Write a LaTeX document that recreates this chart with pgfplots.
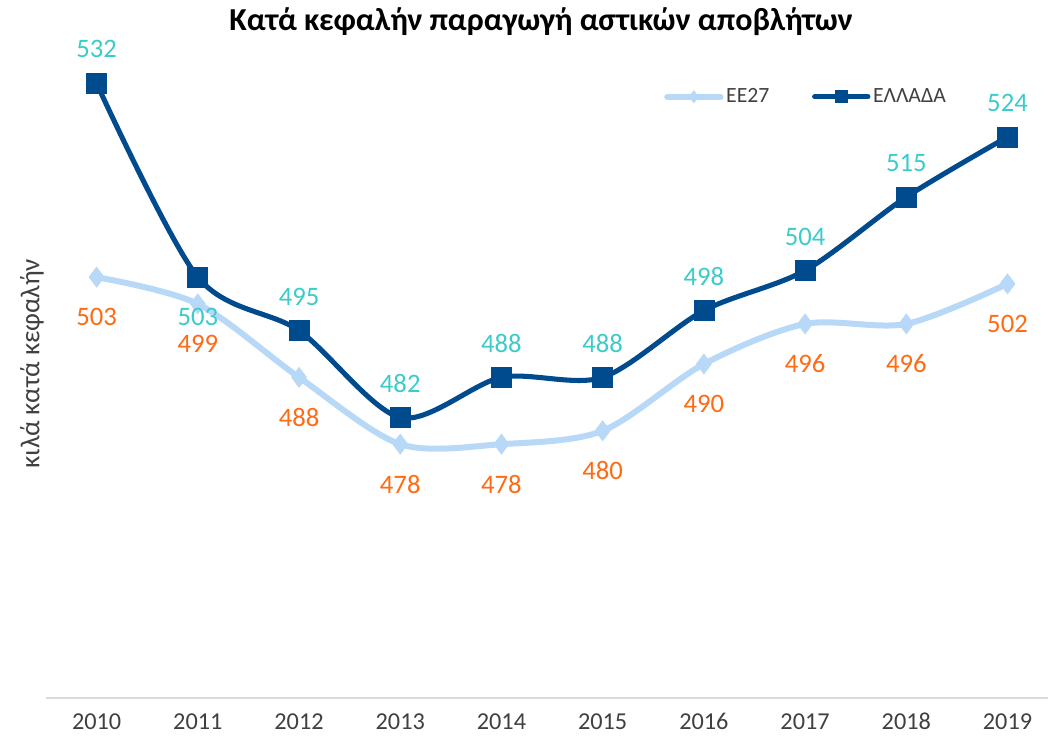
\documentclass[border=0pt]{standalone}
\usepackage{fontspec}
\setmainfont{Carlito}
\usepackage{pgfplots}
\pgfplotsset{compat=1.18}
\definecolor{darkblue}{HTML}{004A8E}
\definecolor{lightblue}{HTML}{B8D8F8}
\definecolor{tealtxt}{HTML}{3CCBCB}
\definecolor{orangetxt}{HTML}{FF6A13}
\definecolor{ticktxt}{HTML}{404040}
\definecolor{axisgray}{HTML}{D9D9D9}

\begin{document}
\begin{tikzpicture}
\begin{axis}[
  scale only axis, width=751.5pt, height=501pt,
  xmin=-0.5, xmax=9.4, ymin=440, ymax=540,
  axis x line=bottom, axis y line=none,
  x axis line style={axisgray, line width=1.3pt, -},
  xtick={0,...,9}, major tick length=0pt,
  xticklabels={2010,2011,2012,2013,2014,2015,2016,2017,2018,2019},
  xticklabel style={font=\fontsize{18.2}{21}\selectfont, color=ticktxt, yshift=-8pt},
  /pgf/number format/assume math mode=true,
  clip=false,
  legend style={draw=none, fill=none, at={(rel axis cs:0.905,0.9)}, anchor=east,
    font=\fontsize{16.3}{19}\selectfont, text=ticktxt, legend columns=2,
    /tikz/every even column/.append style={column sep=30pt}},
  legend image code/.code={
    \draw[#1, mark=none, line cap=round] (0pt,0pt) -- (40pt,0pt);
    \draw[#1, mark size=4.5pt] plot coordinates {(20pt,0pt)};
  },
]
\addplot[lightblue, line width=4.5pt, smooth, tension=0.5,
  mark=diamond*, mark size=7.5pt, mark options={line width=0.5pt}]
  coordinates {(0,503) (1,499) (2,488) (3,478) (4,478) (5,480) (6,490) (7,496) (8,496) (9,502)};
\addlegendentry{ΕΕ27}
\addplot[darkblue, line width=3.8pt, smooth, tension=0.5,
  mark=square*, mark size=7.5pt, mark options={line width=0.5pt}]
  coordinates {(0,532) (1,503) (2,495) (3,482) (4,488) (5,488) (6,498) (7,504) (8,515) (9,524)};
\addlegendentry{ΕΛΛΑΔΑ}
% data labels
\addplot[draw=none, mark=none, forget plot, nodes near coords,
  every node near coord/.append style={anchor=center, yshift=-30pt,
    font=\fontsize{20}{24}\selectfont, text=orangetxt}]
  coordinates {(0,503) (1,499) (2,488) (3,478) (4,478) (5,480) (6,490) (7,496) (8,496) (9,502)};
\addplot[draw=none, mark=none, forget plot, nodes near coords,
  every node near coord/.append style={anchor=center, yshift=25.5pt,
    font=\fontsize{20}{24}\selectfont, text=tealtxt}]
  coordinates {(0,532) (2,495) (3,482) (4,488) (5,488) (6,498) (7,504) (8,515) (9,524)};
\addplot[draw=none, mark=none, forget plot, nodes near coords,
  every node near coord/.append style={anchor=center, yshift=-30pt,
    font=\fontsize{20}{24}\selectfont, text=tealtxt}]
  coordinates {(1,503)};
\node[font=\fontsize{20.5}{24}\selectfont, color=ticktxt, rotate=90]
  at ([xshift=-10.5pt]rel axis cs:0,0.5) {κιλά κατά κεφαλήν};
\node[font=\bfseries\fontsize{24}{28}\selectfont, color=black]
  at ([yshift=6pt]rel axis cs:0.494,1) {Κατά κεφαλήν παραγωγή αστικών αποβλήτων};
\end{axis}
\pgfresetboundingbox
\path[use as bounding box] (-34.5pt,-33.75pt) rectangle (751.5pt,523.5pt);
\end{tikzpicture}
\end{document}
